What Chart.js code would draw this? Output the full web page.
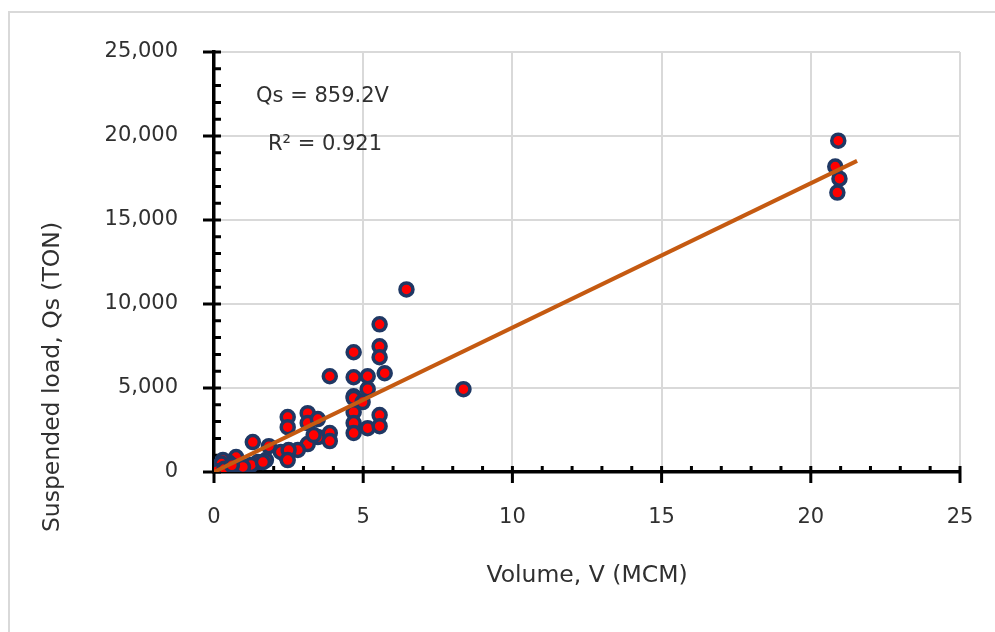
<!DOCTYPE html>
<html>
<head>
<meta charset="utf-8">
<script src="https://cdn.jsdelivr.net/npm/chart.js@4.4.1/dist/chart.umd.min.js"></script>
<style>
  html, body { margin: 0; padding: 0; background: #fff; overflow: hidden; }
  #wrap { position: relative; width: 995px; height: 632px; }
  #frame { position: absolute; left: 8px; top: 11px; width: 1000px; height: 700px; border: 2px solid #d9d9d9; }
  #chart { position: absolute; left: 0; top: 0; }
</style>
</head>
<body>
<div id="wrap">
  <div id="frame"></div>
  <canvas id="chart" width="995" height="632"></canvas>
</div>
<script>
// observed events: volume (MCM) vs suspended load (TON)
const volume = [20.92, 20.82, 20.96, 20.89, 6.45, 8.36, 5.55, 5.55, 5.55, 5.72,
  4.68, 3.88, 4.68, 5.15, 5.15, 4.68, 4.68, 4.98, 4.68, 4.68,
  4.68, 5.15, 5.55, 5.55, 2.47, 2.47, 3.14, 3.14, 3.48, 3.48,
  3.88, 3.88, 3.14, 2.81, 2.47, 2.41, 1.30, 1.84, 2.24, 1.74,
  1.47, 1.24, 0.90, 0.74, 0.47, 0.30, 0.30, 0.03, 0.07, 0.57,
  0.45, 1.64, 0.97, 2.50, 3.34, 2.47, 0.15, 0.25, 0.10, 0.35, 0.60];
const suspendedLoad = [19720, 18180, 17460, 16630, 10870, 4930, 8790, 7480, 6830, 5880,
  7130, 5700, 5640, 5700, 4930, 4510, 4400, 4160, 3560, 2910,
  2320, 2610, 3390, 2730, 3270, 2670, 3500, 2910, 3150, 2080,
  2320, 1840, 1660, 1310, 1190, 950, 1780, 1540, 1190, 710,
  590, 420, 240, 890, 590, 710, 30, 20, 120, 120,
  50, 590, 300, 1310, 2200, 710, 300, 500, 50, 200, 400];

// fitted line Qs = 859.2V
const trendV = [0, 21.55];
const trendQs = [0, 18520];

const xTicks = [0, 5, 10, 15, 20, 25];
const yTicks = [0, 5000, 10000, 15000, 20000, 25000];
const equationText = 'Qs = 859.2V';
const r2Text = 'R² = 0.921';

const FONT = '"DejaVu Sans", sans-serif';
const TEXT = '#303030';

// crossing major ticks + inside minor ticks, like the spreadsheet axes
const axisTicks = {
  id: 'axisTicks',
  beforeDatasetsDraw(chart) {
    const { ctx, scales: { x, y } } = chart;
    ctx.save();
    ctx.strokeStyle = '#000';
    ctx.lineWidth = 3;
    ctx.beginPath();
    for (let v = 0; v <= 25; v++) {
      const px = x.getPixelForValue(v);
      const major = v % 5 === 0;
      ctx.moveTo(px, y.bottom - 6);
      ctx.lineTo(px, y.bottom + (major ? 11 : 0));
    }
    for (let q = 0; q <= 25000; q += 1000) {
      const py = y.getPixelForValue(q);
      const major = q % 5000 === 0;
      ctx.moveTo(x.left + 7, py);
      ctx.lineTo(x.left - (major ? 11 : 0), py);
    }
    ctx.stroke();
    ctx.restore();
  }
};

const labels = {
  id: 'labels',
  afterDraw(chart) {
    const { ctx } = chart;
    ctx.save();
    ctx.fillStyle = TEXT;
    ctx.font = '21px ' + FONT;
    ctx.textAlign = 'left';
    ctx.textBaseline = 'middle';
    ctx.fillText(equationText, 256, 97);
    ctx.fillText(r2Text, 268, 145);

    ctx.font = '23.5px ' + FONT;
    ctx.translate(53, 377);
    ctx.rotate(-Math.PI / 2);
    ctx.textAlign = 'center';
    ctx.fillText('Suspended load, Qs (TON)', 0, 0);
    ctx.restore();
  }
};

new Chart(document.getElementById('chart'), {
  type: 'scatter',
  data: {
    datasets: [
      {
        type: 'line',
        label: 'trend',
        data: trendV.map((v, i) => ({ x: v, y: trendQs[i] })),
        borderColor: '#C55A11',
        borderWidth: 4,
        pointRadius: 0,
        fill: false,
        order: 0
      },
      {
        label: 'observed',
        data: volume.map((v, i) => ({ x: v, y: suspendedLoad[i] })),
        backgroundColor: '#FF0000',
        borderColor: '#1F3864',
        borderWidth: 3.5,
        pointRadius: 6.5,
        order: 1
      }
    ]
  },
  options: {
    responsive: false,
    animation: false,
    layout: { padding: { left: 0, top: 52, right: 35, bottom: 0 } },
    plugins: {
      legend: { display: false },
      tooltip: { enabled: false }
    },
    scales: {
      x: {
        type: 'linear',
        min: 0,
        max: 25,
        afterBuildTicks: s => { s.ticks = xTicks.map(v => ({ value: v })); },
        afterFit: s => { s.height = 160; s.paddingLeft = 0; s.paddingRight = 0; },
        grid: { color: '#d9d9d9', lineWidth: 2, drawTicks: false },
        border: { display: true, color: '#000', width: 3.5 },
        ticks: { padding: 33, color: TEXT, font: { family: FONT, size: 21 } },
        title: {
          display: true,
          text: 'Volume, V (MCM)',
          color: TEXT,
          font: { family: FONT, size: 23.5 },
          padding: { top: 0, bottom: 42 }
        }
      },
      y: {
        type: 'linear',
        min: 0,
        max: 25000,
        afterBuildTicks: s => { s.ticks = yTicks.map(v => ({ value: v })); },
        afterFit: s => { s.width = 214; s.paddingTop = 0; s.paddingBottom = 0; },
        grid: { color: '#d9d9d9', lineWidth: 2, drawTicks: false },
        border: { display: true, color: '#000', width: 3.5 },
        ticks: {
          padding: 36,
          color: TEXT,
          font: { family: FONT, size: 21 },
          callback: v => v.toLocaleString('en-US')
        }
      }
    }
  },
  plugins: [axisTicks, labels]
});
</script>
</body>
</html>
